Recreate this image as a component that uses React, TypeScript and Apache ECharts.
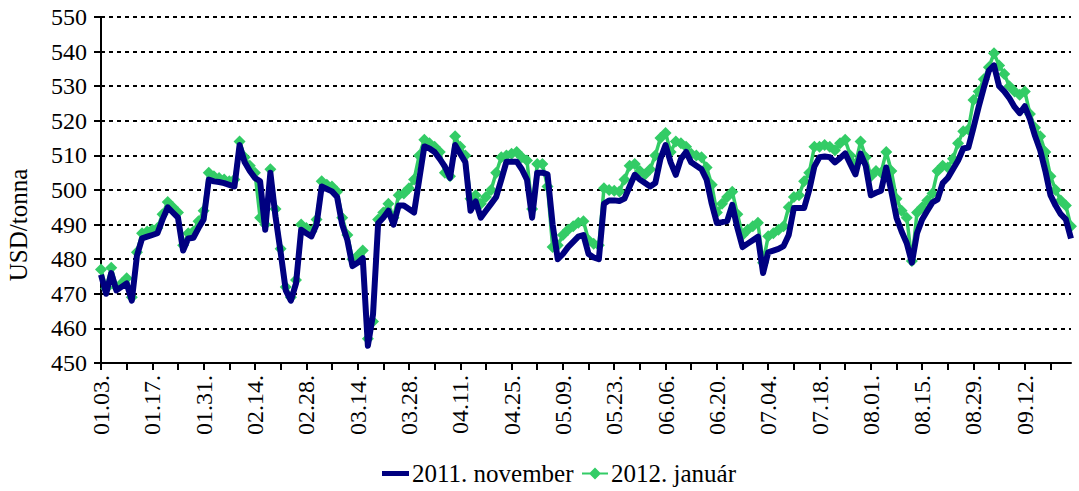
import React, { useEffect, useRef } from "react";
import * as echarts from "echarts";

// Trading days (Mon–Fri) starting 2011-01-03
const START_DATE = "2011-01-03";
const N_DAYS = 190;
function buildCategories(start: string, n: number): string[] {
  const out: string[] = [];
  const d = new Date(start + "T00:00:00Z");
  while (out.length < n) {
    const wd = d.getUTCDay();
    if (wd !== 0 && wd !== 6) {
      const mm = String(d.getUTCMonth() + 1).padStart(2, "0");
      const dd = String(d.getUTCDate()).padStart(2, "0");
      out.push(`${mm}.${dd}.`);
    }
    d.setUTCDate(d.getUTCDate() + 1);
  }
  return out;
}
const categories = buildCategories(START_DATE, N_DAYS);

const nov2011: number[] = [
  475.5, 470, 476, 471, 472, 473, 468, 481, 486, 486.5,
  487, 487.5, 491.5, 495, 493.5, 492, 482.5, 486, 486.2, 489,
  491.5, 503, 502.5, 502.3, 502, 501.5, 501, 513, 508, 505.5,
  503.5, 502.5, 488.5, 505, 492.3, 482, 471, 468, 473, 488.5,
  487.5, 486.6, 490, 501, 500.3, 499.6, 498, 490, 485.5, 478,
  479, 480.3, 455, 464, 490.4, 492, 494, 490, 495.5, 495.5,
  494.5, 493.5, 503, 512.6, 512, 511, 509, 506.8, 503.5, 513,
  510.5, 508, 494, 496.7, 492, 494, 496, 498, 503, 508.2,
  508.2, 508.2, 506, 503, 492, 505, 505, 504.5, 490, 480,
  481.5, 483.5, 485, 486.5, 487, 481.5, 480.5, 480, 496, 497,
  497, 496.8, 497.5, 501, 504.4, 503, 502, 501, 502, 509,
  513, 508, 504.4, 509, 511, 508, 507, 506, 503, 496,
  490.5, 490.7, 491, 495.7, 489, 483.5, 484.5, 485.5, 486.5, 476,
  482, 482.5, 483, 483.8, 487, 494.8, 494.8, 494.8, 500, 506.8,
  509.5, 509.7, 509.5, 508, 509.2, 510.6, 507.5, 504.5, 510.5, 507,
  498.5, 499.2, 499.8, 506.5, 499.5, 492, 488, 484.6, 479, 487.5,
  491.5, 494, 496.4, 497.3, 502, 503.5, 506, 508.5, 512, 512.3,
  518, 524, 529.5, 534.5, 536, 530, 528.5, 526.5, 524, 522.2,
  524.2, 520.5, 515.6, 511.5, 505.5, 498.5, 495.5, 493, 491.5, 486,
];

const jan2012: number[] = [
  477, 471.5, 477.5, 472, 473, 474.5, 469, 482, 487.5, 488,
  488.5, 489, 493, 496.5, 495, 493.5, 484, 487.5, 488, 491,
  494, 505, 504, 503.5, 503, 502.5, 503, 514, 509.5, 507,
  505, 492, 490, 506, 494.5, 483, 472, 469, 474, 490,
  489, 488, 491.5, 502.5, 501.5, 501, 499.5, 492, 487, 480,
  481, 482.5, 457, 462, 491.5, 493.5, 496, 492, 498.5, 499,
  500.5, 503, 510, 514.5, 513.5, 512.5, 511, 505, 504, 515.5,
  512.5, 510, 497.5, 498.5, 496, 498, 500, 505, 509.5, 510,
  510.5, 511, 509.5, 508.5, 494.5, 507.5, 507.5, 501, 483.5, 484,
  487, 488.5, 489.5, 490.5, 491, 485.5, 484.5, 484, 500.5, 500,
  499.8, 499.6, 503, 507, 507.5, 505.5, 504.5, 506, 510, 515,
  516.5, 511, 514, 513.5, 512.5, 510.5, 510, 509.5, 506.5, 501.5,
  493.5, 496, 498, 499.5, 493, 487, 488.5, 489.5, 490.5, 479,
  486.6, 487.5, 488.5, 489.5, 495, 498, 498.5, 502.5, 505, 512.5,
  512.5, 513, 512.5, 511.5, 513.5, 514.5, 510, 507.5, 514, 509.5,
  504, 505.5, 505, 511, 505.5, 497.5, 494, 492, 479.5, 493.5,
  495, 497, 499, 505.5, 507, 506.5, 509, 513.5, 517, 517.5,
  526, 528.5, 532, 535.5, 539.5, 536, 533.5, 530, 528.5, 527.5,
  528.5, 522, 518, 515.5, 511, 504, 500, 497, 495.5, 489.5,
];

const SERIES_NAMES = ["2011. november", "2012. január"];
const Y_TITLE = "USD/tonna";
const FONT = "'Liberation Serif', 'DejaVu Serif', serif";
const NAVY = "#000080";
const GREEN = "#33CC66";

export default function App() {
  const ref = useRef<HTMLDivElement>(null);
  useEffect(() => {
    if (!ref.current) return;
    const chart = echarts.init(ref.current, undefined, { renderer: "svg" });
    const legendText = { fontFamily: FONT, fontSize: 25, color: "#000" };
    chart.setOption({
      animation: false,
      backgroundColor: "#ffffff",
      textStyle: { fontFamily: FONT, color: "#000" },
      grid: { left: 101, right: 8, top: 17, bottom: 128, containLabel: false },
      legend: [
        {
          data: [SERIES_NAMES[0]],
          left: 377,
          top: 456,
          icon: "rect",
          itemWidth: 27,
          itemHeight: 5,
          itemGap: 0,
          textStyle: { ...legendText, padding: [0, 0, 0, -2] },
        },
        {
          data: [SERIES_NAMES[1]],
          left: 577,
          top: 456,
          icon: "path://M0,5L8,5L13,0L18,5L26,5L26,7L18,7L13,12L8,7L0,7Z",
          itemWidth: 26,
          itemHeight: 12,
          itemGap: 0,
          textStyle: { ...legendText, padding: [0, 0, 0, -2] },
        },
      ],
      graphic: [
        {
          type: "text",
          x: 18,
          y: 225,
          rotation: Math.PI / 2,
          style: {
            text: Y_TITLE,
            font: `25px ${FONT}`,
            fill: "#000",
            align: "center",
            verticalAlign: "middle",
          },
        },
      ],
      xAxis: {
        type: "category",
        data: categories,
        boundaryGap: false,
        axisLine: { lineStyle: { color: "#000", width: 2 } },
        axisTick: { show: true, interval: 4, length: 7, lineStyle: { color: "#000", width: 2 } },
        axisLabel: {
          interval: 9,
          rotate: 90,
          margin: 12,
          fontFamily: FONT,
          fontSize: 24,
          color: "#000",
        },
        splitLine: { show: false },
      },
      yAxis: {
        type: "value",
        min: 450,
        max: 550,
        interval: 10,
        axisLine: { show: true, lineStyle: { color: "#000", width: 2 } },
        axisTick: { show: true, length: 7, lineStyle: { color: "#000", width: 2 } },
        axisLabel: { margin: 14, fontFamily: FONT, fontSize: 24, color: "#000" },
        splitLine: { lineStyle: { color: "#000", type: [4, 4], width: 2 } },
      },
      series: [
        {
          name: SERIES_NAMES[0],
          type: "line",
          data: nov2011,
          symbol: "none",
          showSymbol: false,
          z: 3,
          lineStyle: { color: NAVY, width: 6, join: "round" },
          itemStyle: { color: NAVY },
        },
        {
          name: SERIES_NAMES[1],
          type: "line",
          data: jan2012,
          symbol: "diamond",
          symbolSize: 12,
          showAllSymbol: true,
          z: 2,
          lineStyle: { color: GREEN, width: 3.5 },
          itemStyle: { color: GREEN },
        },
      ],
    });
    return () => chart.dispose();
  }, []);
  return (
    <div
      ref={ref}
      style={{ position: "fixed", left: 0, top: 0, width: 1079, height: 491 }}
    />
  );
}
